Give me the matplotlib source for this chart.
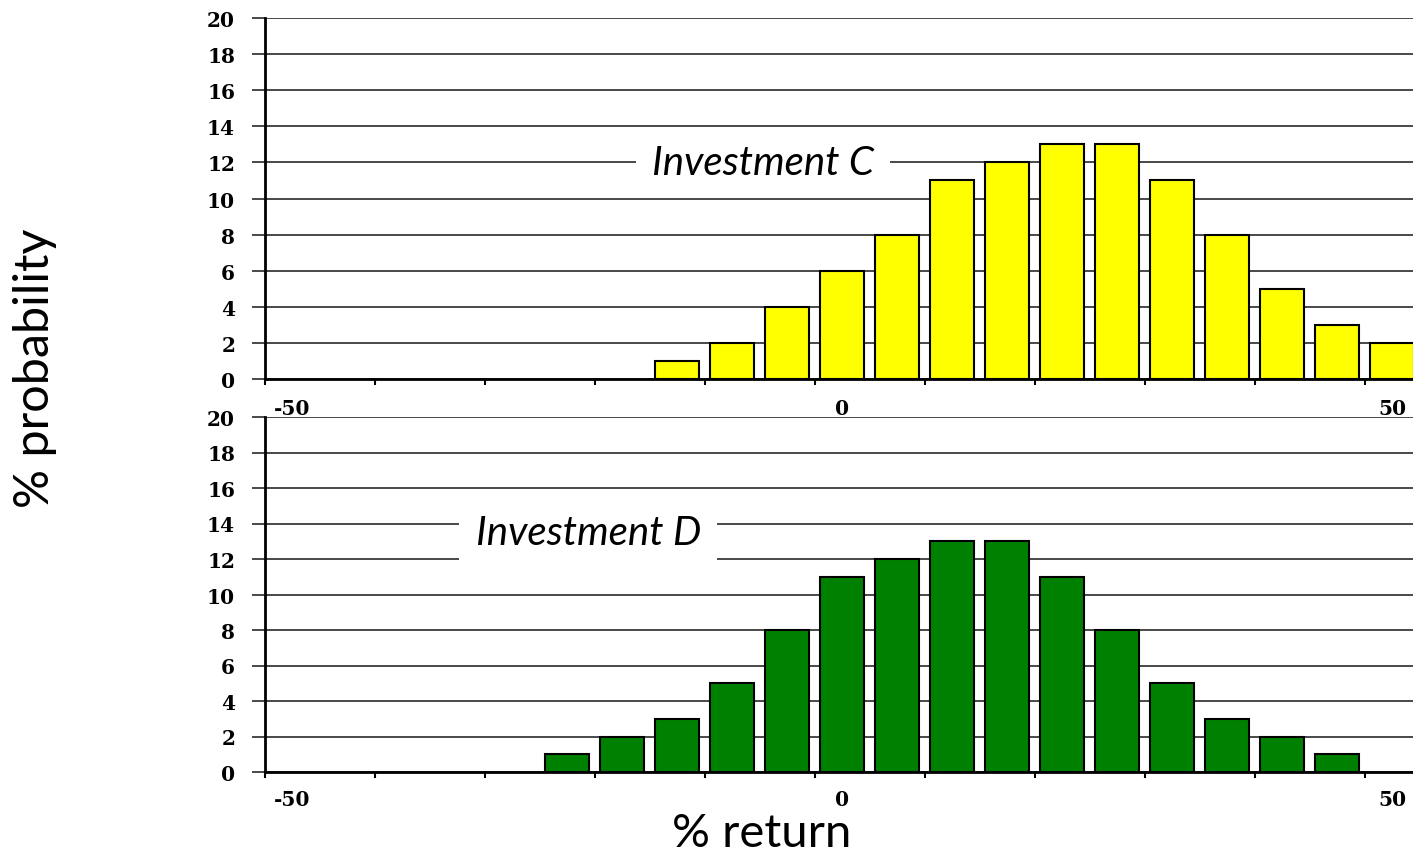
import numpy as np
import matplotlib
matplotlib.use("Agg")
import matplotlib.pyplot as plt

# -------------------- DATA --------------------
bins_c = [-12.5, -7.5, -2.5, 2.5, 7.5, 12.5, 17.5, 22.5, 27.5, 32.5, 37.5, 42.5, 47.5, 52.5]
prob_c = [1, 2, 4, 6, 8, 11, 12, 13, 13, 11, 8, 5, 3, 2]

bins_d = [-22.5, -17.5, -12.5, -7.5, -2.5, 2.5, 7.5, 12.5, 17.5, 22.5, 27.5, 32.5, 37.5, 42.5, 47.5]
prob_d = [1, 2, 3, 5, 8, 11, 12, 13, 13, 11, 8, 5, 3, 2, 1]

x_label_pos = [-47.5, 2.5, 52.5]
x_label_txt = ["-50", "0", "50"]
x_tick_marks = [-50, -40, -30, -20, -10, 0, 10, 20, 30, 40, 50]
y_ticks = [0, 2, 4, 6, 8, 10, 12, 14, 16, 18, 20]

# -------------------- FIGURE --------------------
W, H = 1413, 853
fig = plt.figure(figsize=(W / 100, H / 100), dpi=100)

tick_font = dict(family="DejaVu Serif", weight="bold", size=14.5)


def panel(rect, bins, probs, color, name, name_xy, xpad):
    ax = fig.add_axes(rect)
    ax.bar(bins, probs, width=4.0, color=color, edgecolor="black",
           linewidth=1.5, zorder=3)
    ax.set_xlim(-50, 54.4)
    ax.set_ylim(0, 20)

    ax.set_yticks(y_ticks)
    ax.set_yticklabels([str(v) for v in y_ticks], fontdict=tick_font)
    ax.yaxis.grid(True, color="#3a3a3a", linewidth=1.3, zorder=0)
    ax.set_axisbelow(True)
    ax.tick_params(axis="y", direction="out", length=9.5, width=1.3,
                   color="#3a3a3a", pad=12)

    ax.set_xticks(x_label_pos)
    ax.set_xticklabels(x_label_txt, fontdict=tick_font)
    ax.set_xticks(x_tick_marks, minor=True)
    ax.tick_params(axis="x", which="major", length=0, pad=xpad)
    ax.tick_params(axis="x", which="minor", direction="out", length=4.5,
                   width=1.5, color="black")

    for s in ["top", "right"]:
        ax.spines[s].set_visible(False)
    for s in ["left", "bottom"]:
        ax.spines[s].set_linewidth(2)
        ax.spines[s].set_color("black")
        ax.spines[s].set_zorder(4)

    ax.text(name_xy[0], name_xy[1], name, fontsize=29, family="Lato",
            style="italic", ha="center", va="center", zorder=5,
            bbox=dict(boxstyle="square,pad=0.4", facecolor="white",
                      edgecolor="none"))
    return ax


left = 265 / W
width = (W - 265) / W
ax1 = panel([left, 1 - 380 / H, width, (380 - 19) / H],
            bins_c, prob_c, "#FFFF00", "Investment C", (-4.7, 12.0), 14)
ax2 = panel([left, 1 - 773 / H, width, (773 - 418) / H],
            bins_d, prob_d, "#008000", "Investment D", (-20.6, 13.5), 12)

fig.text(35 / W, 1 - 368 / H, "% probability", rotation=90, fontsize=35,
         family="Lato", ha="center", va="center")
fig.text(762 / W, 1 - 847 / H, "% return", fontsize=34,
         family="Lato", ha="center", va="baseline")

fig.savefig("out.png", dpi=100)
